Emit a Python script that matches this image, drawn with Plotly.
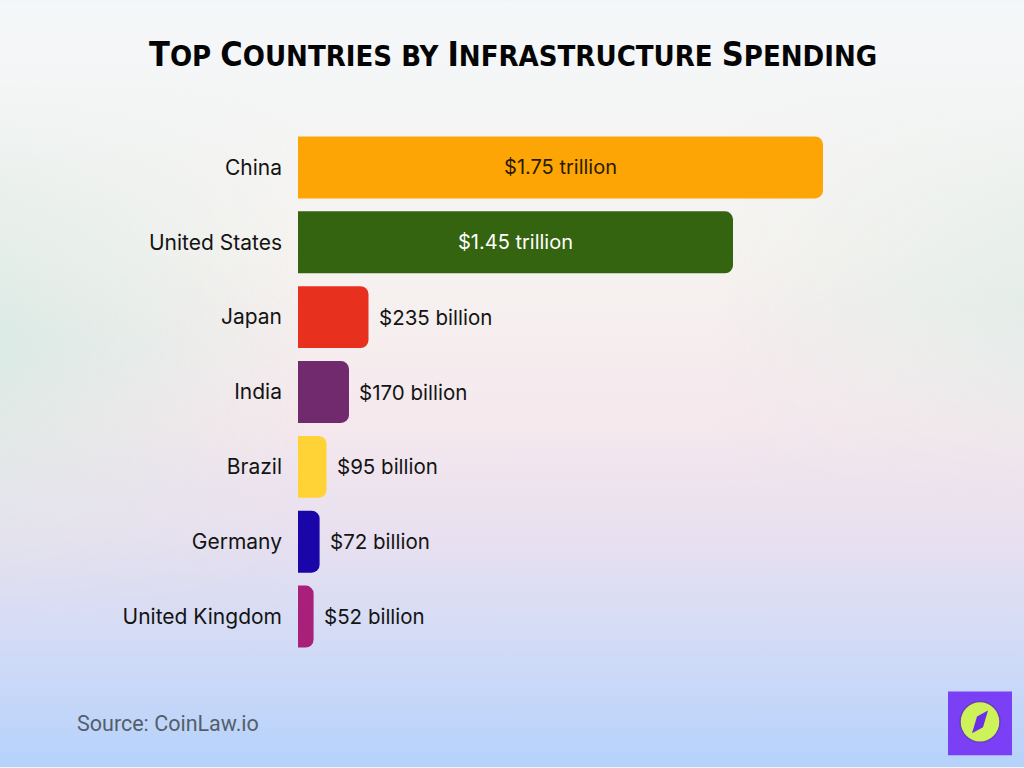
import base64
import plotly.graph_objects as go

countries = ["China", "United States", "Japan", "India", "Brazil", "Germany", "United Kingdom"]
values = [1750, 1450, 235, 170, 95, 72, 52]  # billions USD
labels = ["$1.75 trillion", "$1.45 trillion", "$235 billion", "$170 billion",
          "$95 billion", "$72 billion", "$52 billion"]
colors = ["#FCA504", "#346410", "#E8301F", "#722A6E", "#FFD236", "#1A05A8", "#A8207A"]
inside_flags = [True, True, False, False, False, False, False]
inside_font_colors = ["#2a1c00", "#ffffff", "#111", "#111", "#111", "#111", "#111"]
title_text = "Top Countries by Infrastructure Spending"

W, H = 1024, 768
L, R, T, B = 298, 124, 129.5, 113.5
PW, PH = W - L - R, H - T - B
XMAX = PW / 0.3  # 0.3 px per billion


def px(x):
    return (x - L) / PW


def py(y):
    return 1 - (y - T) / PH


def small_caps(text, big, small):
    out = []
    run, run_big = "", None
    for ch in text:
        is_big = ch.isupper()
        if ch == " ":
            is_big = run_big if run_big is not None else False
        if run_big is None or is_big == run_big:
            run += ch
            run_big = is_big
        else:
            out.append((run, run_big))
            run, run_big = ch, is_big
    out.append((run, run_big))
    html = "".join(f"<span style='font-size:{big if b else small}px'>{r.upper()}</span>"
                   for r, b in out)
    return "<b>" + html + "</b>"


bg_svg = f'''<svg xmlns="http://www.w3.org/2000/svg" width="{W}" height="{H}" viewBox="0 0 {W} {H}">
<defs>
<linearGradient id="v" x1="0" y1="0" x2="0" y2="1">
<stop offset="0" stop-color="#f4f7f9"/>
<stop offset="0.33" stop-color="#f6f3f0"/>
<stop offset="0.55" stop-color="#f5e8ed"/>
<stop offset="0.70" stop-color="#e8e0f0"/>
<stop offset="0.84" stop-color="#d2dbf6"/>
<stop offset="1" stop-color="#b5d2fb"/>
</linearGradient>
<linearGradient id="h" x1="0" y1="0" x2="1" y2="0">
<stop offset="0" stop-color="#d6eae3" stop-opacity="0.85"/>
<stop offset="0.3" stop-color="#d6eae3" stop-opacity="0"/>
</linearGradient>
<linearGradient id="hm" x1="0" y1="0" x2="0" y2="1">
<stop offset="0.1" stop-color="#fff" stop-opacity="0"/>
<stop offset="0.45" stop-color="#fff" stop-opacity="1"/>
<stop offset="0.8" stop-color="#fff" stop-opacity="0"/>
</linearGradient>
<mask id="m"><rect width="{W}" height="{H}" fill="url(#hm)"/></mask>
<linearGradient id="hr" x1="1" y1="0" x2="0" y2="0">
<stop offset="0" stop-color="#dcece6" stop-opacity="0.7"/>
<stop offset="0.3" stop-color="#dcece6" stop-opacity="0"/>
</linearGradient>
<linearGradient id="hrm" x1="0" y1="0" x2="0" y2="1">
<stop offset="0.1" stop-color="#fff" stop-opacity="0"/>
<stop offset="0.4" stop-color="#fff" stop-opacity="1"/>
<stop offset="0.65" stop-color="#fff" stop-opacity="0"/>
</linearGradient>
<mask id="mr"><rect width="{W}" height="{H}" fill="url(#hrm)"/></mask>
</defs>
<rect width="{W}" height="{H}" fill="url(#v)"/>
<rect width="{W}" height="{H}" fill="url(#h)" mask="url(#m)"/>
<rect width="{W}" height="{H}" fill="url(#hr)" mask="url(#mr)"/>
</svg>'''
bg_uri = "data:image/svg+xml;base64," + base64.b64encode(bg_svg.encode()).decode()

fig = go.Figure()
fig.add_trace(go.Bar(
    x=values,
    y=countries,
    orientation="h",
    marker=dict(color=colors, cornerradius=8, line=dict(width=0)),
    text=[lab if ins else "" for lab, ins in zip(labels, inside_flags)],
    textposition="inside",
    insidetextanchor="middle",
    textfont=dict(family="Inter, sans-serif", size=20, color=inside_font_colors),
    hoverinfo="skip",
    cliponaxis=False,
))

annotations = []
for c, v, lab, ins in zip(countries, values, labels, inside_flags):
    if not ins:
        annotations.append(dict(
            x=v, y=c, xref="x", yref="y", text=lab, showarrow=False,
            xanchor="left", yanchor="middle", xshift=8,
            font=dict(family="Inter, sans-serif", size=20.5, color="#141414"),
        ))

annotations.append(dict(
    x=px(513), y=py(53), xref="paper", yref="paper",
    text=small_caps(title_text, 34, 29),
    showarrow=False, xanchor="center", yanchor="middle",
    font=dict(family="DejaVu Sans Condensed, sans-serif", size=29, color="#050505"),
))
annotations.append(dict(
    x=px(75), y=py(724), xref="paper", yref="paper",
    text="Source: CoinLaw.io", showarrow=False, xanchor="left", yanchor="middle",
    font=dict(family="Roboto, sans-serif", size=21.5, color="#555e6c"),
))

shapes = [
    dict(type="rect", xref="paper", yref="paper", x0=px(948), x1=px(1012),
         y0=py(756), y1=py(692), fillcolor="#7B3FF6", line=dict(width=0), layer="above"),
    dict(type="circle", xref="paper", yref="paper", x0=px(960), x1=px(1000),
         y0=py(743), y1=py(702), fillcolor="#CDF25A",
         line=dict(width=1.5, color="#6a3fc0"), layer="above"),
    dict(type="path", xref="paper", yref="paper",
         path=f"M {px(988)} {py(711)} L {px(983)} {py(728)} L {px(972)} {py(734)} L {px(977)} {py(717)} Z",
         fillcolor="#6a2ee8", line=dict(width=0), layer="above"),
]

fig.update_layout(
    width=W, height=H,
    margin=dict(l=L, r=R, t=T, b=B, pad=0),
    paper_bgcolor="#f3f4f6",
    plot_bgcolor="rgba(0,0,0,0)",
    bargap=0.173,
    showlegend=False,
    xaxis=dict(range=[0, XMAX], visible=False, fixedrange=True),
    yaxis=dict(
        categoryorder="array", categoryarray=countries,
        autorange=False, range=[6.5, -0.5],
        showgrid=False, zeroline=False, showline=False, ticks="",
        ticklabelstandoff=15,
        tickfont=dict(family="Inter, sans-serif", size=21, color="#141414"),
        fixedrange=True,
    ),
    images=[dict(
        source=bg_uri, xref="paper", yref="paper",
        x=px(0), y=py(0), sizex=W / PW, sizey=H / PH,
        xanchor="left", yanchor="top", sizing="stretch", layer="below",
    )],
    annotations=annotations,
    shapes=shapes,
)

fig.write_html("out.html", config={"displayModeBar": False})
